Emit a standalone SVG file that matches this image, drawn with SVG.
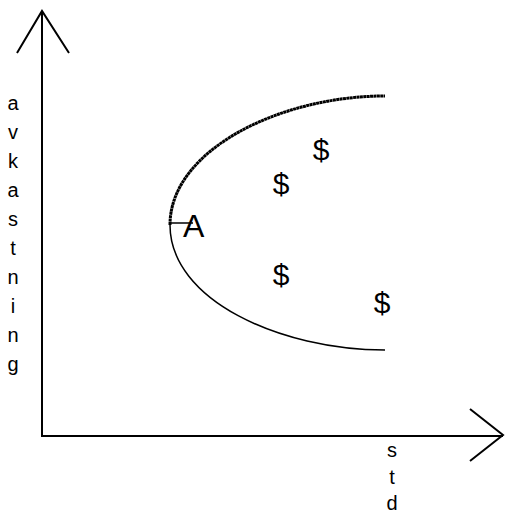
<svg xmlns="http://www.w3.org/2000/svg" width="505" height="515" viewBox="0 0 505 515">
<style>
.ax{stroke:#000;stroke-width:2;fill:none}
.t{font-family:"Liberation Sans",Arial,sans-serif;font-size:20px;fill:#000}
.d{font-family:"Liberation Sans",Arial,sans-serif;font-size:30px;fill:#000}
</style>
<rect width="505" height="515" fill="#fff"/>
<g id="axes">
<path class="ax" d="M42,11 V436 H503"/>
<path class="ax" d="M17,53 L42,11 L69,53"/>
<path class="ax" d="M470,409 L503,435 L470,461"/>
</g>
<g id="curve">
<path d="M170,225 C170,150 280,96 385,96" stroke="#000" stroke-width="3" fill="none" stroke-dasharray="3 0.4"/>
<path d="M170,225 C170,300 280,350 385,350" stroke="#000" stroke-width="1.5" fill="none"/>
<line x1="170" y1="223" x2="193" y2="223" stroke="#000" stroke-width="1.5"/>
</g>
<g id="labels">
<text class="d" x="183" y="237" style="font-size:32px">A</text>
<text class="d" x="281" y="194" text-anchor="middle">$</text>
<text class="d" x="321" y="160" text-anchor="middle">$</text>
<text class="d" x="281" y="285" text-anchor="middle">$</text>
<text class="d" x="382" y="313" text-anchor="middle">$</text>
</g>
<g id="ylabel" class="t" text-anchor="middle">
<text x="13" y="110">a</text>
<text x="13" y="139">v</text>
<text x="13" y="168">k</text>
<text x="13" y="197">a</text>
<text x="13" y="226">s</text>
<text x="13" y="255">t</text>
<text x="13" y="284">n</text>
<text x="13" y="313">i</text>
<text x="13" y="342">n</text>
<text x="13" y="371">g</text>
</g>
<g id="xlabel" class="t" text-anchor="middle">
<text x="392" y="457">s</text>
<text x="392" y="484">t</text>
<text x="392" y="510">d</text>
</g>
</svg>
